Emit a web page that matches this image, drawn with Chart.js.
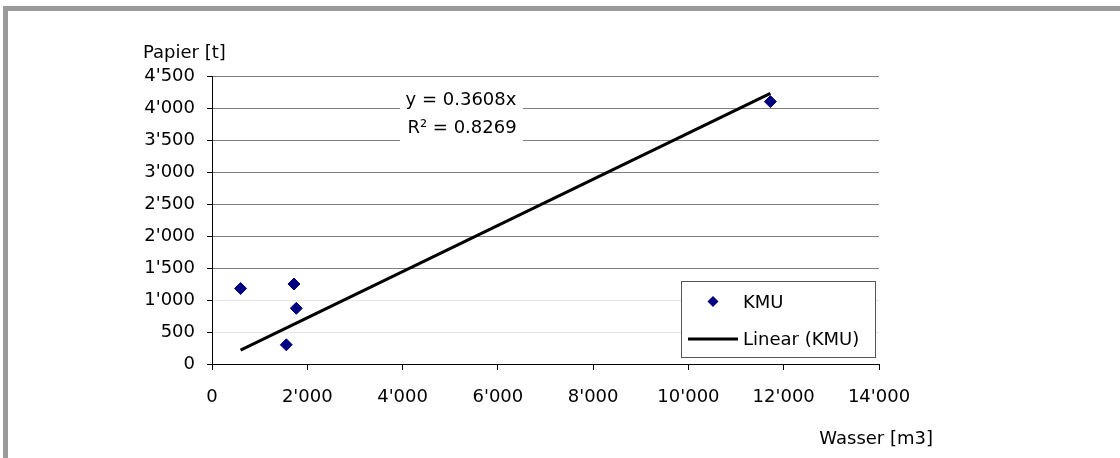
<!DOCTYPE html>
<html>
<head>
<meta charset="utf-8">
<script src="https://cdn.jsdelivr.net/npm/chart.js@4/dist/chart.umd.min.js"></script>
<style>
    html, body { margin: 0; padding: 0; background: #fff; }
    #marco {
        position: absolute;
        left: 3px;
        top: 6px;
        width: 1117px;
        height: 452px;
        border-top: 5px solid #9a9a9a;
        border-left: 5px solid #9a9a9a;
        box-sizing: border-box;
    }
    #grafico { position: absolute; left: 0; top: 0; }
</style>
</head>
<body>
<div id="marco"></div>
<canvas id="grafico" width="1120" height="458"></canvas>
<script>
// Wasser [m3] vs Papier [t] per KMU
const wasser = [600, 1720, 1770, 1560, 11720];
const papier = [1180, 1250, 870, 300, 4100];
const pendiente = 0.3608;
const r2 = 0.8269;
const ejeXMax = 14000;
const ejeYMax = 4500;

const fuente = "DejaVu Sans";
const tamano = 18;

const puntos = wasser.map((x, i) => ({ x: x, y: papier[i] }));
const xMin = Math.min(...wasser);
const xMax = Math.max(...wasser);
const tendencia = [
    { x: xMin, y: pendiente * xMin },
    { x: xMax, y: pendiente * xMax },
];

const miles = (v) => String(v).replace(/\B(?=(\d{3})+(?!\d))/g, "'");

// axis titles, equation box and legend
const extras = {
    id: "extras",
    afterDraw(chart) {
        const ctx = chart.ctx;
        ctx.save();
        ctx.font = tamano + "px '" + fuente + "'";
        ctx.fillStyle = "#000";
        ctx.textBaseline = "middle";

        ctx.textAlign = "left";
        ctx.fillText("Papier [t]", 143, 53);
        ctx.textAlign = "right";
        ctx.fillText("Wasser [m3]", 933, 439);

        // trendline equation
        ctx.fillStyle = "#fff";
        ctx.fillRect(400, 84, 123, 60);
        ctx.fillStyle = "#000";
        ctx.textAlign = "center";
        ctx.fillText("y = " + pendiente + "x", 461, 100);
        ctx.fillText("R² = " + r2, 462, 128);

        // legend
        const lx = 681, ly = 281, lw = 194, lh = 76;
        ctx.fillStyle = "#fff";
        ctx.fillRect(lx, ly, lw, lh);
        ctx.strokeStyle = "#555";
        ctx.lineWidth = 1;
        ctx.strokeRect(lx + 0.5, ly + 0.5, lw, lh);

        const ds = chart.data.datasets;
        ctx.fillStyle = ds[0].backgroundColor;
        ctx.beginPath();
        ctx.moveTo(713, 296);
        ctx.lineTo(718.5, 301.5);
        ctx.lineTo(713, 307);
        ctx.lineTo(707.5, 301.5);
        ctx.closePath();
        ctx.fill();

        ctx.strokeStyle = ds[1].borderColor;
        ctx.lineWidth = ds[1].borderWidth;
        ctx.beginPath();
        ctx.moveTo(688, 339);
        ctx.lineTo(738, 339);
        ctx.stroke();

        ctx.fillStyle = "#000";
        ctx.textAlign = "left";
        ctx.fillText(ds[0].label, 743, 303);
        ctx.fillText(ds[1].label, 743, 340);
        ctx.restore();
    },
};

const grafico = new Chart(document.getElementById("grafico").getContext("2d"), {
    type: "scatter",
    data: {
        datasets: [
            {
                label: "KMU",
                data: puntos,
                pointStyle: "rectRot",
                pointRadius: 6,
                pointBorderWidth: 1,
                backgroundColor: "#000080",
                borderColor: "#000080",
            },
            {
                label: "Linear (KMU)",
                type: "line",
                data: tendencia,
                borderColor: "#000",
                borderWidth: 3,
                pointRadius: 0,
                fill: false,
            },
        ],
    },
    options: {
        responsive: false,
        animation: false,
        devicePixelRatio: 1,
        layout: { padding: { left: 0, top: 76, right: 241, bottom: 0 } },
        plugins: {
            legend: { display: false },
            tooltip: { enabled: false },
        },
        scales: {
            x: {
                type: "linear",
                min: 0,
                max: ejeXMax,
                afterFit: (s) => { s.height = 94; },
                ticks: {
                    stepSize: 2000,
                    color: "#000",
                    padding: 17,
                    font: { family: fuente, size: tamano },
                    callback: miles,
                },
                grid: {
                    drawOnChartArea: false,
                    tickLength: 6,
                    tickColor: "#000",
                },
                border: { color: "#000", width: 1 },
            },
            y: {
                min: 0,
                max: ejeYMax,
                afterFit: (s) => { s.width = 212; },
                ticks: {
                    stepSize: 500,
                    color: "#000",
                    padding: 12,
                    font: { family: fuente, size: tamano },
                    callback: miles,
                },
                grid: {
                    color: (c) => (c.tick && (c.tick.value === 500 || c.tick.value === 1000) ? "#e4e4e4" : "#808080"),
                    tickLength: 5,
                    tickColor: "#000",
                },
                border: { color: "#000", width: 1 },
            },
        },
    },
    plugins: [extras],
});
</script>
</body>
</html>
